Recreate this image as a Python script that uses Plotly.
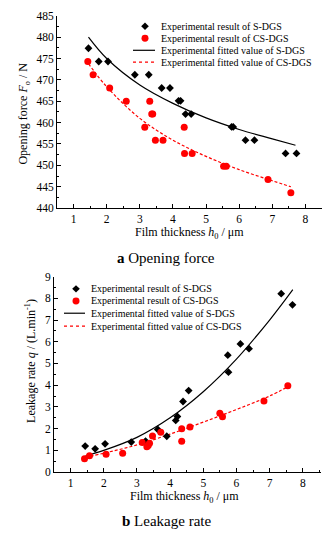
import plotly.graph_objects as go

W, H = 330, 540
FONT = "Liberation Serif"

# ---------- data: opening force ----------
s_force_h = [1.45, 1.76, 2.04, 2.85, 3.27, 3.66, 3.91, 4.17, 4.23, 4.38, 4.55, 5.77, 5.82, 6.19, 6.46, 7.40, 7.73]
s_force_f = [477.4, 474.3, 474.3, 471.2, 471.2, 468.1, 468.1, 465.1, 465.1, 462.0, 462.0, 459.0, 459.0, 455.9, 455.9, 452.8, 452.8]
cs_force_h = [1.43, 1.59, 2.09, 2.59, 3.15, 3.30, 3.36, 3.39, 3.47, 3.70, 4.34, 4.35, 4.58, 5.53, 5.61, 6.87, 7.56]
cs_force_f = [474.3, 471.2, 468.1, 465.0, 458.9, 465.0, 462.0, 462.0, 455.9, 455.9, 458.9, 452.8, 452.8, 449.8, 449.8, 446.7, 443.6]
fit_s_force_h = [1.45, 2, 3, 4, 5, 6, 7, 7.7]
fit_s_force_f = [480.0, 475.0, 468.8, 464.5, 461.1, 458.4, 456.2, 454.7]
fit_cs_force_h = [1.45, 2, 3, 4, 5, 6, 7, 7.56]
fit_cs_force_f = [473.8, 468.4, 461.0, 455.9, 452.1, 449.0, 446.4, 445.0]

# ---------- data: leakage rate ----------
s_leak_h = [1.44, 1.74, 2.04, 2.83, 3.26, 3.63, 3.90, 4.17, 4.22, 4.39, 4.56, 5.74, 5.76, 6.12, 6.38, 7.35, 7.69]
s_leak_q = [1.20, 1.07, 1.30, 1.38, 1.43, 1.96, 1.65, 2.38, 2.56, 3.25, 3.75, 5.38, 4.60, 5.90, 5.68, 8.21, 7.70]
cs_leak_h = [1.42, 1.57, 2.07, 2.57, 3.16, 3.30, 3.34, 3.38, 3.47, 3.72, 4.35, 4.35, 4.60, 5.50, 5.58, 6.83, 7.55]
cs_leak_q = [0.62, 0.75, 0.82, 0.87, 1.36, 1.17, 1.22, 1.33, 1.66, 1.83, 2.00, 1.42, 2.08, 2.71, 2.55, 3.27, 3.98]
fit_s_leak_h = [1.45, 2, 3, 4, 5, 6, 7, 7.7]
fit_s_leak_q = [0.75, 1.0, 1.6, 2.5, 3.7, 5.2, 7.0, 8.4]
fit_cs_leak_h = [1.45, 2, 3, 4, 5, 6, 7, 7.55]
fit_cs_leak_q = [0.68, 0.87, 1.25, 1.75, 2.3, 2.88, 3.5, 3.93]

legend_labels = ["Experimental result of S-DGS", "Experimental result of CS-DGS",
                 "Experimental fitted value of S-DGS", "Experimental fitted value of CS-DGS"]

RED = "#ff0000"
fig = go.Figure()

def add_panel(xa, ya, sh, sv, ch, cv, fsh, fsv, fch, fcv):
    fig.add_trace(go.Scatter(x=fsh, y=fsv, mode="lines", line=dict(color="black", width=1.2, shape="spline"),
                             xaxis=xa, yaxis=ya, showlegend=False))
    fig.add_trace(go.Scatter(x=fch, y=fcv, mode="lines", line=dict(color=RED, width=1.2, dash="3px,2px", shape="spline"),
                             xaxis=xa, yaxis=ya, showlegend=False))
    fig.add_trace(go.Scatter(x=sh, y=sv, mode="markers", marker=dict(symbol="diamond", size=6, color="black"),
                             xaxis=xa, yaxis=ya, showlegend=False))
    fig.add_trace(go.Scatter(x=ch, y=cv, mode="markers", marker=dict(symbol="circle", size=7, color=RED),
                             xaxis=xa, yaxis=ya, showlegend=False))

add_panel("x", "y", s_force_h, s_force_f, cs_force_h, cs_force_f,
          fit_s_force_h, fit_s_force_f, fit_cs_force_h, fit_cs_force_f)
add_panel("x2", "y2", s_leak_h, s_leak_q, cs_leak_h, cs_leak_q,
          fit_s_leak_h, fit_s_leak_q, fit_cs_leak_h, fit_cs_leak_q)

def px(x):
    return x / W

def py(y):
    return 1 - y / H

tickfont = dict(family=FONT, size=11.5, color="black")
axis_common = dict(showline=True, linecolor="black", linewidth=1, ticks="inside", ticklen=4,
                   tickcolor="black", showgrid=False, zeroline=False, tickfont=tickfont)

fig.update_layout(
    width=W, height=H, margin=dict(l=0, r=0, t=0, b=0),
    paper_bgcolor="white", plot_bgcolor="white", showlegend=False,
    font=dict(family=FONT, color="black"),
    xaxis=dict(domain=[px(57), px(322)], range=[0.5, 8.5], dtick=1, anchor="y",
               minor=dict(ticks="inside", dtick=0.5, ticklen=2, tickcolor="black"), **axis_common),
    yaxis=dict(domain=[py(206.7), py(10)], range=[440, 485], dtick=5, anchor="x",
               minor=dict(ticks="inside", dtick=2.5, ticklen=2, tickcolor="black"), **axis_common),
    xaxis2=dict(domain=[px(54), px(321)], range=[0.5, 8.55], dtick=1, anchor="y2",
                minor=dict(ticks="inside", dtick=0.5, ticklen=2, tickcolor="black"), **axis_common),
    yaxis2=dict(domain=[py(476.7), py(276.7)], range=[0, 9], dtick=1, anchor="x2",
                minor=dict(ticks="inside", dtick=0.5, ticklen=2, tickcolor="black"), **axis_common),
)

ann = []
shapes = []

def text(x, y, s, size, xanchor="center", angle=0):
    ann.append(dict(x=px(x), y=py(y), xref="paper", yref="paper", text=s, showarrow=False,
                    xanchor=xanchor, yanchor="middle", textangle=angle,
                    font=dict(family=FONT, size=size, color="black")))

def legend(mx, lx0, lx1, tx, rows):
    r = 3.8
    y0 = rows[0]
    shapes.append(dict(type="path", xref="paper", yref="paper",
                       path=f"M {px(mx)} {py(y0 - r)} L {px(mx + r)} {py(y0)} L {px(mx)} {py(y0 + r)} L {px(mx - r)} {py(y0)} Z",
                       fillcolor="black", line=dict(width=0)))
    y1 = rows[1]
    shapes.append(dict(type="circle", xref="paper", yref="paper",
                       x0=px(mx - 3.5), x1=px(mx + 3.5), y0=py(y1 + 3.5), y1=py(y1 - 3.5),
                       fillcolor=RED, line=dict(width=0)))
    shapes.append(dict(type="line", xref="paper", yref="paper", x0=px(lx0), x1=px(lx1),
                       y0=py(rows[2]), y1=py(rows[2]), line=dict(color="black", width=1.2)))
    shapes.append(dict(type="line", xref="paper", yref="paper", x0=px(lx0), x1=px(lx1),
                       y0=py(rows[3]), y1=py(rows[3]), line=dict(color=RED, width=1.2, dash="3px,3px")))
    for lab, yy in zip(legend_labels, rows):
        text(tx, yy, lab, 10, xanchor="left")

legend(145, 133, 155, 158.5, [20.7, 33.0, 45.3, 57.5])
legend(76, 64, 85, 88.5, [289.3, 301.7, 314.2, 327.5])

text(189, 232, "Film thickness <i>h</i><sub>0</sub> / μm", 12)
text(185, 502, "Film thickness <i>h</i><sub>0</sub> / μm", 12)
text(24, 110, "Opening force <i>F</i><sub>o</sub> / N", 12, angle=-90)
text(31, 363, "Leakage rate <i>q</i> / (L.min<sup>-1</sup>)", 12, angle=-90)
text(166, 258, "<b>a</b> Opening force", 15)
text(166, 527, "<b>b</b> Leakage rate", 15)

fig.update_layout(annotations=ann, shapes=shapes)
fig.write_html("out.html")
